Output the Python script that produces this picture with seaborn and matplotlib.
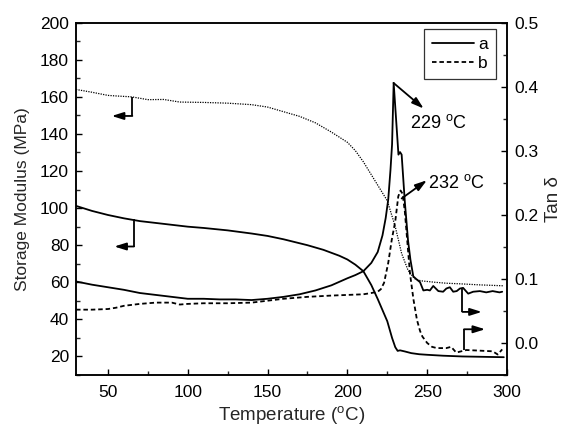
import matplotlib
matplotlib.use("Agg")
import matplotlib.pyplot as plt
from matplotlib.ticker import MultipleLocator, FormatStrFormatter
import seaborn as sns

# ---------------- data ----------------
temp_E_a = [30, 40, 50, 60, 70, 80, 90, 100, 110, 125, 140, 150, 160, 175, 185,
            195, 200, 205, 210, 215, 219, 222, 225, 228, 230, 231.5, 233, 236,
            240, 245, 250, 260, 272, 285, 298]
E_a = [101.2, 98.5, 96.3, 94.5, 93.0, 92.0, 91.0, 90.0, 89.3, 88.0, 86.3, 85.0,
       83.2, 80.0, 77.5, 74.3, 72.3, 69.5, 66.0, 58.5, 51.0, 45.0, 39.0, 30.0,
       25.0, 23.0, 23.3, 22.7, 21.8, 21.2, 20.9, 20.4, 20.0, 19.8, 19.6]

temp_E_b = [30, 40, 50, 55, 65, 75, 85, 95, 110, 125, 140, 150, 160, 170, 180,
            190, 200, 205, 210, 215, 220, 225, 230, 234, 238, 242, 246, 255, 262,
            270, 283, 298]
E_b = [164.0, 162.5, 160.8, 160.5, 160.0, 158.5, 158.6, 157.2, 157.0, 156.6,
       155.8, 154.5, 152.0, 149.5, 146.0, 141.0, 135.5, 131.0, 125.0, 118.0,
       111.0, 104.0, 90.0, 75.5, 66.5, 62.0, 60.8, 60.0, 59.5, 59.2, 58.6, 58.1]

temp_tan_a = [30, 40, 50, 60, 70, 80, 90, 100, 110, 120, 130, 140, 150, 160, 170,
              180, 190, 200, 205, 210, 215, 219, 222, 224, 225.6, 227, 228, 229,
              230.5, 232, 233, 234, 236, 238, 239.5, 241.3, 243.5, 245.5, 247.6,
              250, 251.7, 253.8, 257, 260, 262, 264.2, 266.3, 268.5, 270.5, 272.5,
              275.7, 278.8, 283, 287, 291, 295.3, 297]
tan_a = [0.096, 0.091, 0.087, 0.083, 0.078, 0.075, 0.072, 0.069, 0.069, 0.068,
         0.068, 0.067, 0.069, 0.072, 0.076, 0.082, 0.090, 0.101, 0.106, 0.112,
         0.125, 0.142, 0.168, 0.195, 0.224, 0.27, 0.31, 0.406, 0.35, 0.294,
         0.298, 0.294, 0.22, 0.16, 0.13, 0.104, 0.099, 0.095, 0.082, 0.083,
         0.082, 0.089, 0.081, 0.080, 0.085, 0.087, 0.080, 0.081, 0.085, 0.086,
         0.077, 0.080, 0.081, 0.079, 0.081, 0.079, 0.080]

temp_tan_b = [30, 40, 50, 55, 60, 70, 80, 90, 95, 100, 110, 125, 140, 150, 160,
              175, 190, 200, 210, 215, 219, 221, 223, 225.6, 227.8, 230, 231.9,
              233.3, 234.6, 236, 237.5, 239.2, 241.4, 243.6, 245.5, 247, 250,
              253, 256, 262, 265, 268.2, 274.5, 283, 291, 294.2, 297]
tan_b = [0.052, 0.052, 0.053, 0.055, 0.058, 0.061, 0.063, 0.063, 0.060, 0.061,
         0.062, 0.062, 0.063, 0.066, 0.069, 0.072, 0.074, 0.075, 0.076, 0.078,
         0.080, 0.084, 0.094, 0.125, 0.161, 0.19, 0.229, 0.238, 0.233, 0.205,
         0.16, 0.109, 0.068, 0.036, 0.019, 0.010, 0.000, -0.006, -0.008,
         -0.008, -0.006, -0.015, -0.011, -0.012, -0.013, -0.018, -0.01]

legend_labels = ["a", "b"]

# annotation geometry (in data units)
peak_notes = [  # (text, tail x, tail tan, head x, head tan, text x, text tan)
    (r"229 $\mathregular{^o}$C", 228.9, 0.406, 247.8, 0.366, 239.3, 0.343),
    (r"232 $\mathregular{^o}$C", 234.0, 0.2256, 249.8, 0.254, 250.3, 0.250),
]
E_brackets = [  # (x, y from, y to, arrow tip x)
    (65.3, 160.1, 149.7, 52.4),
    (66.3, 94.0, 79.3, 54.0),
]
tan_brackets = [
    (272.1, 0.085, 0.0485, 284.2),
    (273.1, -0.0114, 0.0214, 286.3),
]

# ---------------- style ----------------
sns.set_style("ticks")
plt.rcParams["font.family"] = ["Liberation Sans", "DejaVu Sans"]
plt.rcParams["mathtext.fontset"] = "custom"
plt.rcParams["mathtext.rm"] = "Liberation Sans"
plt.rcParams["axes.linewidth"] = 1.1
plt.rcParams["text.color"] = "black"

fig = plt.figure(figsize=(5.63, 4.26), dpi=100)
ax = fig.add_axes([76 / 563, 1 - 375 / 426, (507 - 76) / 563, (375 - 22.7) / 426])
ax2 = ax.twinx()

lw = 1.3
sns.lineplot(x=temp_E_a, y=E_a, ax=ax, color="black", lw=lw, linestyle="-")
sns.lineplot(x=temp_E_b, y=E_b, ax=ax, color="black", lw=0.9,
             linestyle=(0, (1, 1)))
sns.lineplot(x=temp_tan_a, y=tan_a, ax=ax2, color="black", lw=lw, linestyle="-")
sns.lineplot(x=temp_tan_b, y=tan_b, ax=ax2, color="black", lw=lw,
             linestyle=(0, (2.5, 1.6)))

ax.set_xlim(30, 300)
ax.set_ylim(10, 200)
ax2.set_ylim(-0.05, 0.5)

ax.xaxis.set_major_locator(MultipleLocator(50))
ax.xaxis.set_minor_locator(MultipleLocator(25))
ax.yaxis.set_major_locator(MultipleLocator(20))
ax.yaxis.set_minor_locator(MultipleLocator(10))
ax2.yaxis.set_major_locator(MultipleLocator(0.1))
ax2.yaxis.set_minor_locator(MultipleLocator(0.05))
ax2.yaxis.set_major_formatter(FormatStrFormatter("%.1f"))

ax.tick_params(axis="both", which="major", direction="in", length=4.5,
               width=1.0, labelsize=12.5, colors="black")
ax.tick_params(axis="both", which="minor", direction="in", length=3,
               width=1.0)
ax.tick_params(axis="x", which="both", top=False, pad=7)
ax.tick_params(axis="y", which="both", right=False, pad=5)
ax2.tick_params(axis="y", which="major", direction="in", length=4.5,
                width=1.0, labelsize=12.5, pad=5, colors="black")
ax2.tick_params(axis="y", which="minor", direction="in", length=3, width=1.0)

for a_ in (ax, ax2):
    for s in a_.spines.values():
        s.set_color("black")
        s.set_linewidth(1.1)
        s.set_visible(True)

ax.set_xlabel(r"Temperature ($\mathregular{^o}$C)", fontsize=13.5, labelpad=3)
ax.set_ylabel("Storage Modulus (MPa)", fontsize=12.5, labelpad=7)
ax2.set_ylabel("Tan δ", fontsize=13.5, labelpad=5)

arrow_kw = dict(arrowstyle="-|>,head_length=0.7,head_width=0.22",
                color="black", lw=1.3, shrinkA=0, shrinkB=0)

for txt, x0, y0, x1, y1, tx, ty in peak_notes:
    ax2.annotate("", xy=(x1, y1), xytext=(x0, y0), arrowprops=arrow_kw)
    ax2.text(tx, ty, txt, fontsize=13, va="center", ha="left")

for x, y0, y1, xt in E_brackets:
    ax.plot([x, x], [y0, y1], color="black", lw=1.3, solid_capstyle="butt")
    ax.annotate("", xy=(xt, y1), xytext=(x, y1), arrowprops=arrow_kw)

for x, y0, y1, xt in tan_brackets:
    ax2.plot([x, x], [y0, y1], color="black", lw=1.3, solid_capstyle="butt")
    ax2.annotate("", xy=(xt, y1), xytext=(x, y1), arrowprops=arrow_kw)

h = [ax2.lines[0], ax2.lines[1]]
leg = ax2.legend(h, legend_labels, loc="upper right",
                 bbox_to_anchor=(0.974, 0.981), borderaxespad=0,
                 fontsize=12.5, frameon=True, fancybox=False,
                 handlelength=2.4, handletextpad=0.25, labelspacing=0.2,
                 borderpad=0.45)
leg.get_frame().set_edgecolor("black")
leg.get_frame().set_linewidth(0.9)

fig.savefig("out.png", dpi=100)
